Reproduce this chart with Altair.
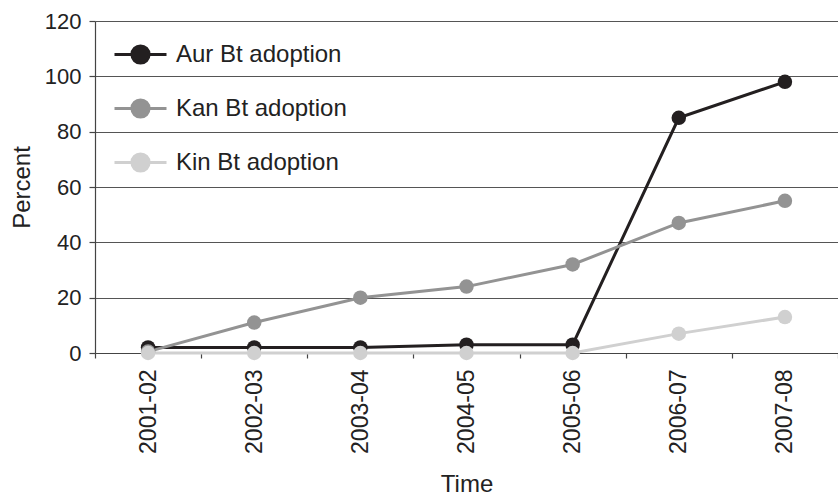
import altair as alt
import pandas as pd

periods = ["2001-02", "2002-03", "2003-04", "2004-05", "2005-06", "2006-07", "2007-08"]
series_names = ["Aur Bt adoption", "Kan Bt adoption", "Kin Bt adoption"]
aur = [2, 2, 2, 3, 3, 85, 98]
kan = [0.5, 11, 20, 24, 32, 47, 55]
kin = [0, 0, 0, 0, 0, 7, 13]
colors = ["#231f20", "#939393", "#d0d0d0"]

rows = []
for name, vals in zip(series_names, [aur, kan, kin]):
    for p, v in zip(periods, vals):
        rows.append({"Time": p, "Series": name, "Percent": v})
df = pd.DataFrame(rows)

FONT = "Liberation Sans"

legend_symbol = ("M-1,0L1,0M-0.33,0A0.33,0.33 0 1,1 0.33,0A0.33,0.33 0 1,1 -0.33,0Z")

chart = alt.Chart(df).mark_line(
    strokeWidth=3,
    point=alt.OverlayMarkDef(filled=True, size=210, opacity=1),
).encode(
    x=alt.X("Time:N", sort=periods, scale=alt.Scale(type="band", paddingInner=0, paddingOuter=0),
            axis=alt.Axis(title="Time", labelAngle=270, tickBand="extent", tickSize=5,
                          labelPadding=11, titlePadding=19, grid=False)),
    y=alt.Y("Percent:Q", scale=alt.Scale(domain=[0, 120], nice=False),
            axis=alt.Axis(title="Percent", values=[0, 20, 40, 60, 80, 100, 120], tickSize=6,
                          labelPadding=8, titlePadding=10, grid=True)),
    color=alt.Color("Series:N", sort=series_names,
                    scale=alt.Scale(domain=series_names, range=colors),
                    legend=alt.Legend(title=None, orient="none", legendX=18, legendY=6,
                                      symbolType=legend_symbol, symbolSize=2704,
                                      symbolStrokeWidth=3, symbolOpacity=1,
                                      labelOffset=8, rowPadding=11, labelLimit=0)),
    order=alt.Order("Series:N"),
).properties(
    width=743, height=332,
    autosize=alt.AutoSizeParams(type="none"),
    padding={"left": 95, "top": 21, "right": 0, "bottom": 145},
).configure_view(stroke=None).configure_axis(
    labelFont=FONT, titleFont=FONT, labelFontSize=22, titleFontSize=24,
    labelColor="#222", titleColor="#222", titleFontWeight="normal",
    domainColor="#444", tickColor="#444", gridColor="#555", gridWidth=1,
    domainWidth=1.2, tickWidth=1.2,
).configure_axisX(labelFontSize=23).configure_legend(
    labelFont=FONT, labelFontSize=24, labelColor="#222",
)

chart.save("out.html", embed_options={"renderer": "svg", "actions": False})
